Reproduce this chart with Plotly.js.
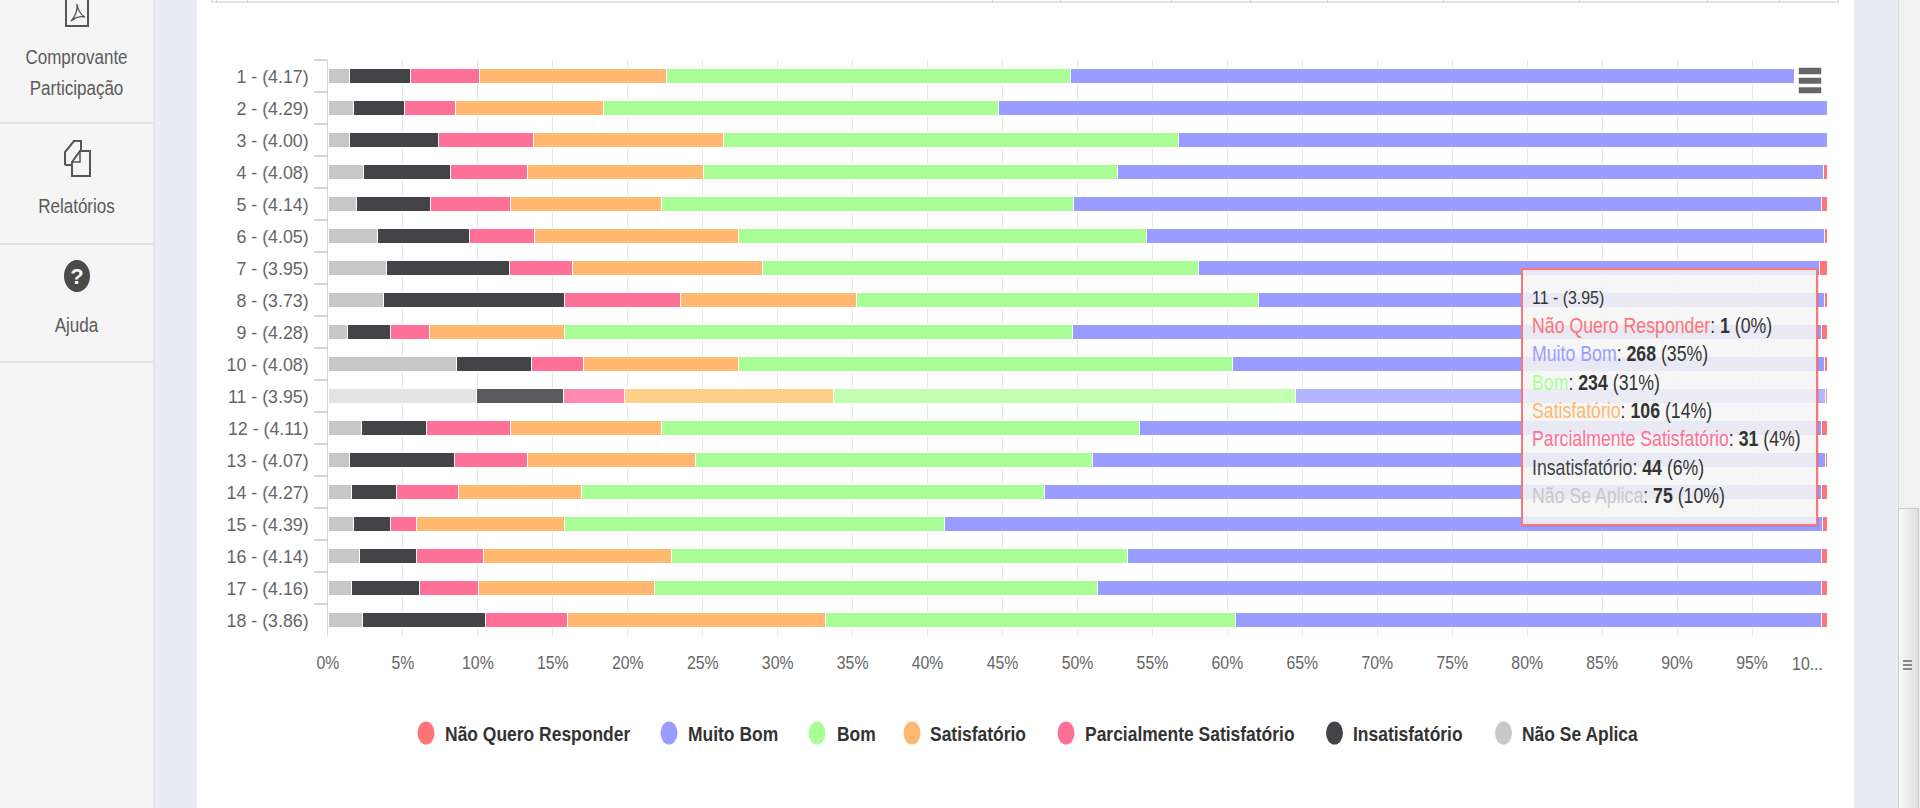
<!DOCTYPE html>
<html lang="pt">
<head>
<meta charset="utf-8">
<title>Resultado</title>
<script src="https://cdn.plot.ly/plotly-3.0.1.min.js"></script>
<style>
html,body{margin:0;padding:0;width:1920px;height:808px;overflow:hidden;background:#fff;}
body{font-family:"Liberation Sans",sans-serif;position:relative;}
.abs{position:absolute;}
#side{left:0;top:0;width:153px;height:808px;background:#f5f5f5;border-right:2px solid #e4e6e8;}
.div{left:0;width:153px;height:2px;background:#e2e2e2;}
.lbl{left:0;width:153px;text-align:center;color:#5a5a5a;font-size:20.5px;line-height:24px;transform:scaleX(.83);}
#band{left:155px;top:0;width:42px;height:808px;background:#e9edf2;}
#band2{left:1854px;top:0;width:44px;height:808px;background:#e9edf2;}
#track{left:1898px;top:0;width:22px;height:808px;background:#f1f1f1;border-left:1px solid #dcdcdc;box-sizing:border-box;}
#thumb{left:1898px;top:508px;width:21px;height:300px;box-sizing:border-box;border:1px solid #c8c8c8;border-bottom:0;background:linear-gradient(90deg,#fafafa,#dedede);border-radius:2px 2px 0 0;}
.grip{left:1903px;width:9px;height:1.5px;background:#888;}
#rule{left:211px;top:1px;width:1628px;height:2px;background:#e4e4e4;}
.stub{top:0;width:1px;height:3px;background:#d4d4d4;}
#chart{left:0;top:0;width:1920px;height:808px;}
</style>
</head>
<body>
<div class="abs" id="band"></div>
<div class="abs" id="band2"></div>
<div class="abs" id="track"></div>
<div class="abs" id="thumb"></div>
<div class="abs grip" style="top:660px"></div>
<div class="abs grip" style="top:664px"></div>
<div class="abs grip" style="top:668px"></div>
<div class="abs" id="rule"></div>
<div class="abs" id="side"></div>
<div class="abs div" style="top:122px"></div>
<div class="abs div" style="top:243px"></div>
<div class="abs div" style="top:361px"></div>
<svg class="abs" style="left:60px;top:0" width="34" height="30" viewBox="0 0 34 30">
  <path d="M6 -6 H28 V26 H6 Z" fill="none" stroke="#555" stroke-width="2"/>
  <path d="M11 21 C15 17 18 10 17 4 C18 11 22 16 25 17 C21 16 15 18 11 21 Z" fill="none" stroke="#555" stroke-width="1.3"/>
</svg>
<div class="abs lbl" style="top:45px">Comprovante</div>
<div class="abs lbl" style="top:76px">Participação</div>
<svg class="abs" style="left:60px;top:138px" width="34" height="42" viewBox="0 0 34 42">
  <path d="M5 27 V14 L14 3 H21 V13" fill="none" stroke="#555" stroke-width="2"/>
  <path d="M5 27 H12" fill="none" stroke="#555" stroke-width="2"/>
  <path d="M12 38 V24 L20 13 H30 V38 Z" fill="#f5f5f5" stroke="#555" stroke-width="2"/>
  <path d="M20 13 V24 H12" fill="none" stroke="#555" stroke-width="1.5"/>
</svg>
<div class="abs lbl" style="top:194px">Relatórios</div>
<svg class="abs" style="left:62px;top:258px" width="30" height="36" viewBox="0 0 30 36">
  <ellipse cx="15" cy="18" rx="13" ry="16" fill="#4a4a4a"/>
  <text x="15" y="26" font-family="Liberation Sans" font-weight="700" font-size="22" text-anchor="middle" fill="#f5f5f5">?</text>
</svg>
<div class="abs lbl" style="top:313px">Ajuda</div>
<div class="abs" id="chart"></div>

<script>
const categories = ["1 - (4.17)","2 - (4.29)","3 - (4.00)","4 - (4.08)","5 - (4.14)","6 - (4.05)","7 - (3.95)","8 - (3.73)","9 - (4.28)","10 - (4.08)","11 - (3.95)","12 - (4.11)","13 - (4.07)","14 - (4.27)","15 - (4.39)","16 - (4.14)","17 - (4.16)","18 - (3.86)"];

const naoSeAplica   = [1.42,1.69,1.42,2.34,1.9,3.27,3.87,3.68,1.3,8.55,9.88,2.26,1.42,1.6,1.69,2.07,1.6,2.3];
const insatisfatorio = [4.08,3.43,5.98,5.81,4.94,6.18,8.23,12.07,2.9,5.05,5.8,4.31,7.03,3.0,2.51,3.83,4.5,8.2];
const parcialmente  = [4.6,3.41,6.28,5.15,5.34,4.35,4.2,7.79,2.56,3.46,4.08,5.61,4.85,4.12,1.7,4.5,3.93,5.5];
const satisfatorio  = [12.5,9.87,12.69,11.75,10.07,13.6,12.7,11.7,8.99,10.34,13.94,10.07,11.2,8.18,9.85,12.5,11.77,17.2];
const bom           = [26.95,26.35,30.39,27.6,27.51,27.2,29.1,26.84,33.92,32.95,30.87,31.89,26.48,30.88,25.35,30.43,29.53,27.33];
const muitoBom      = [50.35,55.25,43.24,47.1,49.84,45.2,41.4,37.76,49.93,39.45,35.3,45.46,48.92,51.82,58.6,46.27,48.27,39.07];
const naoQuero      = [0.1,0,0,0.25,0.4,0.2,0.5,0.2,0.4,0.2,0.13,0.4,0.1,0.4,0.3,0.4,0.4,0.4];

const xTicks = [0,5,10,15,20,25,30,35,40,45,50,55,60,65,70,75,80,85,90,95,100];
const xTickText = ["0%","5%","10%","15%","20%","25%","30%","35%","40%","45%","50%","55%","60%","65%","70%","75%","80%","85%","90%","95%",""];

const legendLabels = ["Não Quero Responder","Muito Bom","Bom","Satisfatório","Parcialmente Satisfatório","Insatisfatório","Não Se Aplica"];
const legendColors = ["#ff7474","#9a9cff","#a9ff96","#ffb870","#ff7096","#434348","#c8c8c8"];
const hoverColors  = ["#ff8c8c","#b3b4ff","#c3ffb0","#ffd088","#ff8cb0","#5a5a60","#e3e3e3"];
const seriesOrder = [
  [naoSeAplica,6],[insatisfatorio,5],[parcialmente,4],[satisfatorio,3],[bom,2],[muitoBom,1],[naoQuero,0]
];
const hoveredRow = 10;

const tipLines = [
  ["Não Quero Responder","1","(0%)"],
  ["Muito Bom","268","(35%)"],
  ["Bom","234","(31%)"],
  ["Satisfatório","106","(14%)"],
  ["Parcialmente Satisfatório","31","(4%)"],
  ["Insatisfatório","44","(6%)"],
  ["Não Se Aplica","75","(10%)"]
];

const L=328,R=1827,T=60,B=636;
const px = v => (v-L)/(R-L);
const py = v => (B-v)/(B-T);
const FONT = '"Liberation Sans",sans-serif';

const traces = seriesOrder.map(([vals,idx]) => ({
  type:'bar', orientation:'h', y:categories, x:vals, name:legendLabels[idx],
  marker:{color:categories.map((c,i)=> i===hoveredRow ? hoverColors[idx] : legendColors[idx]), line:{color:'#ffffff',width:1}},
  hoverinfo:'skip', showlegend:false
}));

const shapes = [];
const annotations = [];

// legend
const markerX = [426,669,817,912,1066,1334.5,1503.5];
const textX   = [443,686,835,928,1083,1351,1520];
legendLabels.forEach((t,i)=>{
  shapes.push({type:'circle',xref:'paper',yref:'paper',layer:'above',
    x0:px(markerX[i]-8.5),x1:px(markerX[i]+8.5),y0:py(744.5),y1:py(721.5),
    fillcolor:legendColors[i],line:{width:0}});
  annotations.push({xref:'paper',yref:'paper',x:px(textX[i]),y:py(734),xanchor:'left',yanchor:'middle',
    showarrow:false,text:'<b>'+t+'</b>',font:{family:FONT,size:20,color:'#333333'},name:'legend'});
});

// "10..." truncated last tick
annotations.push({xref:'paper',yref:'paper',x:px(1807),y:py(664),xanchor:'center',yanchor:'middle',
  showarrow:false,text:'10...',font:{family:FONT,size:18,color:'#666666'},name:'trunc'});

// export button
shapes.push({type:'rect',xref:'paper',yref:'paper',layer:'above',x0:px(1794),x1:px(1829),y0:py(101),y1:py(62),fillcolor:'#ffffff',line:{width:0}});
[[68,74],[78,83.5],[87.5,93]].forEach(([a,b])=>{
  shapes.push({type:'rect',xref:'paper',yref:'paper',layer:'above',x0:px(1799),x1:px(1821),y0:py(b),y1:py(a),fillcolor:'#666666',line:{color:'#666666',width:0.5}});
});

// tooltip
shapes.push({type:'rect',xref:'paper',yref:'paper',layer:'above',x0:px(1523),x1:px(1819),y0:py(527),y1:py(270),fillcolor:'rgba(0,0,0,0.10)',line:{width:0}});
shapes.push({type:'rect',xref:'paper',yref:'paper',layer:'above',x0:px(1522),x1:px(1817),y0:py(525),y1:py(269),fillcolor:'rgba(249,249,249,0.85)',line:{color:legendColors[0],width:2}});
annotations.push({xref:'paper',yref:'paper',x:px(1530),y:py(298),xanchor:'left',yanchor:'middle',showarrow:false,
  text:categories[hoveredRow],font:{family:FONT,size:18,color:'#333333'},name:'tipHead'});
const tipY=[325,353,382,410,438,467,495];
tipLines.forEach((l,i)=>{
  annotations.push({xref:'paper',yref:'paper',x:px(1530),y:py(tipY[i]),xanchor:'left',yanchor:'middle',showarrow:false,
    text:'<span style="color:'+legendColors[i]+'">'+l[0]+'</span>: <b>'+l[1]+'</b> '+l[2],
    font:{family:FONT,size:22,color:'#333333'},name:'tip'});
});

const layout = {
  width:1920,height:808,
  margin:{l:L,r:1920-R,t:T,b:808-B,pad:0},
  paper_bgcolor:'rgba(0,0,0,0)',plot_bgcolor:'#ffffff',
  barmode:'stack',bargap:0.53,showlegend:false,
  xaxis:{range:[0,100],tickmode:'array',tickvals:xTicks,ticktext:xTickText,showgrid:true,gridcolor:'#e6e6e6',gridwidth:1,
    zeroline:false,showline:false,ticks:'',tickfont:{family:FONT,size:18,color:'#666666'},ticklabelstandoff:14,fixedrange:true},
  yaxis:{type:'category',categoryorder:'array',categoryarray:categories,range:[17.5,-0.5],showgrid:false,zeroline:false,
    showline:true,linecolor:'#ccd6eb',linewidth:1.5,ticks:'outside',tickson:'boundaries',ticklen:13,tickwidth:1.5,tickcolor:'#ccd6eb',
    tickfont:{family:FONT,size:19,color:'#666666'},ticklabelstandoff:14,fixedrange:true},
  shapes,annotations
};

// Narrow the rendered labels: the page's condensed face is not installed.
function squeeze(node, s, origin){
  const b = node.getBBox();
  const ox = origin==='left' ? b.x : origin==='right' ? b.x+b.width : b.x+b.width/2;
  const prev = node.getAttribute('transform') || '';
  node.setAttribute('transform', prev+' translate('+ox+',0) scale('+s+',1) translate('+(-ox)+',0)');
}
Plotly.newPlot('chart',traces,layout,{displayModeBar:false,staticPlot:true}).then(gd=>{
  gd.querySelectorAll('.xtick text').forEach(n=>squeeze(n,.88,'center'));
  gd.querySelectorAll('.ytick text').forEach(n=>squeeze(n,.937,'right'));
  gd.querySelectorAll('.annotation').forEach((g,i)=>{
    const a=annotations[i], t=g.querySelector('text');
    if(a.name==='legend') squeeze(t,.873,'left');
    else if(a.name==='tip') squeeze(t,.805,'left');
    else if(a.name==='tipHead') squeeze(t,.885,'left');
    else squeeze(t,.88,'center');
  });
});
</script>
<script>
[211,216,247,992,1060,1171,1250,1327,1443,1579,1707,1779,1838].forEach(x=>{
  const d=document.createElement('div');d.className='abs stub';d.style.left=x+'px';document.body.insertBefore(d,document.getElementById('side'));
});
</script>
</body>
</html>
